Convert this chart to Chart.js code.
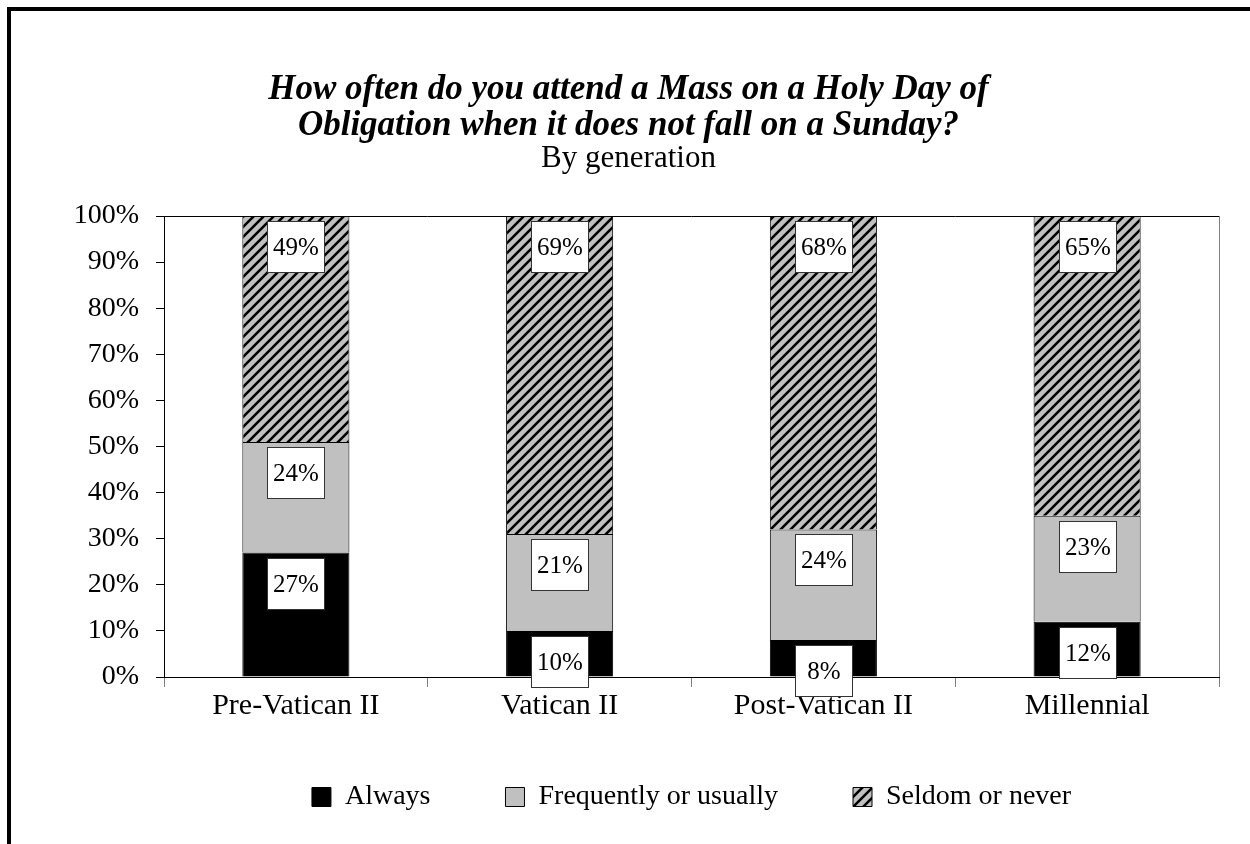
<!DOCTYPE html>
<html>
<head>
<meta charset="utf-8">
<script src="https://cdn.jsdelivr.net/npm/chart.js@4.4.1/dist/chart.umd.min.js"></script>
<style>
  html, body { margin: 0; padding: 0; background: #fff; }
  #wrap { position: absolute; left: 0; top: 0; width: 1250px; height: 844px; }
</style>
</head>
<body>
<div id="wrap"><canvas id="chart" width="1250" height="844"></canvas></div>
<script>
// ---------- data ----------
const generations = ['Pre-Vatican II', 'Vatican II', 'Post-Vatican II', 'Millennial'];
const always = [27, 10, 8, 12];
const frequently = [24, 21, 24, 23];
const seldom = [49, 69, 68, 65];
const yTicks = [0, 10, 20, 30, 40, 50, 60, 70, 80, 90, 100];

const SERIF = "'Liberation Serif', 'Times New Roman', serif";

// ---------- hatch pattern for "Seldom or never" ----------
function makeHatch() {
  const s = 10;
  const c = document.createElement('canvas');
  c.width = s; c.height = s;
  const g = c.getContext('2d');
  g.fillStyle = '#c0c0c0';
  g.fillRect(0, 0, s, s);
  g.strokeStyle = '#000';
  g.lineWidth = 2.6;
  g.beginPath();
  g.moveTo(-2, s + 2); g.lineTo(s + 2, -2);
  g.moveTo(-2, 2); g.lineTo(2, -2);
  g.moveTo(s - 2, s + 2); g.lineTo(s + 2, s - 2);
  g.stroke();
  return g.createPattern(c, 'repeat');
}
const hatch = makeHatch();

// ---------- plugins ----------
const framePlugin = {
  id: 'frame',
  afterLayout(chart) {
    // let the x labels draw below the (squeezed) x scale box
    chart.scales.x.bottom = chart.height;
  },
  beforeDraw(chart) {
    const ctx = chart.ctx;
    ctx.save();
    ctx.fillStyle = '#000';
    ctx.fillRect(7, 7, chart.width - 7, 4);
    ctx.fillRect(7, 7, 4, chart.height - 7);
    ctx.restore();
  },
  afterDatasetsDraw(chart) {
    // top line and right edge of the plot area
    const a = chart.chartArea;
    const ctx = chart.ctx;
    ctx.save();
    ctx.lineWidth = 1;
    ctx.strokeStyle = '#000';
    ctx.beginPath();
    ctx.moveTo(a.left, a.top + 0.5);
    ctx.lineTo(a.right, a.top + 0.5);
    ctx.stroke();
    ctx.strokeStyle = '#808080';
    ctx.beginPath();
    ctx.moveTo(a.right + 0.5, a.top);
    ctx.lineTo(a.right + 0.5, a.bottom);
    ctx.stroke();
    ctx.restore();
  }
};

const labelBoxes = {
  id: 'labelBoxes',
  afterDatasetsDraw(chart) {
    const ctx = chart.ctx;
    ctx.save();
    ctx.font = '25px ' + SERIF;
    ctx.textAlign = 'center';
    ctx.textBaseline = 'middle';
    chart.data.datasets.forEach((ds, di) => {
      const meta = chart.getDatasetMeta(di);
      meta.data.forEach((bar, i) => {
        const top = Math.min(bar.y, bar.base);
        const w = 57, h = 51;
        const x0 = Math.round(bar.x - w / 2) + 0.5;
        const y0 = Math.round(top + 5) + 0.5;
        ctx.fillStyle = '#fff';
        ctx.fillRect(x0, y0, w, h);
        ctx.strokeStyle = '#333';
        ctx.lineWidth = 1;
        ctx.strokeRect(x0, y0, w, h);
        ctx.fillStyle = '#000';
        ctx.fillText(ds.data[i] + '%', x0 + w / 2, y0 + h / 2 + 1);
      });
    });
    ctx.restore();
  }
};

// ---------- chart ----------
const ctx = document.getElementById('chart').getContext('2d');
new Chart(ctx, {
  type: 'bar',
  data: {
    labels: generations,
    datasets: [
      { label: 'Always', data: always, backgroundColor: '#000', borderColor: '#000', borderWidth: 1 },
      { label: 'Frequently or usually', data: frequently, backgroundColor: '#c0c0c0', borderColor: '#000', borderWidth: 1 },
      { label: 'Seldom or never', data: seldom, backgroundColor: hatch, borderColor: '#000', borderWidth: 1 }
    ]
  },
  options: {
    responsive: false,
    animation: false,
    layout: { padding: { left: 38, right: 31, top: 0, bottom: 23 } },
    datasets: { bar: { categoryPercentage: 1, barPercentage: 0.406 } },
    plugins: {
      title: {
        display: true,
        text: ['How often do you attend a Mass on a Holy Day of', 'Obligation when it does not fall on a Sunday?'],
        color: '#000',
        font: { family: SERIF, size: 35, weight: 'bold', style: 'italic', lineHeight: '36px' },
        padding: { top: 72, bottom: 0 }
      },
      subtitle: {
        display: true,
        text: 'By generation',
        color: '#000',
        font: { family: SERIF, size: 31, lineHeight: '30px' },
        padding: { top: 0, bottom: 42 }
      },
      legend: {
        position: 'bottom',
        fullSize: false,
        labels: {
          color: '#000',
          font: { family: SERIF, size: 28 },
          boxWidth: 19,
          boxHeight: 19,
          padding: 75
        }
      },
      tooltip: { enabled: false }
    },
    scales: {
      x: {
        stacked: true,
        afterFit(scale) { scale.height = 31; },
        grid: { offset: true, drawOnChartArea: false, tickLength: 10, tickColor: '#808080' },
        border: { display: true, color: '#000', width: 1 },
        ticks: { color: '#000', padding: 1, font: { family: SERIF, size: 30 } }
      },
      y: {
        stacked: true,
        min: 0,
        max: 100,
        afterFit(scale) { scale.width = 126; },
        afterBuildTicks(scale) { scale.ticks = yTicks.map(v => ({ value: v })); },
        grid: { drawOnChartArea: false, tickLength: 8, tickColor: '#000' },
        border: { display: true, color: '#000', width: 1 },
        ticks: {
          color: '#000',
          padding: 17,
          font: { family: SERIF, size: 28 },
          callback: v => v + '%'
        }
      }
    }
  },
  plugins: [framePlugin, labelBoxes]
});
</script>
</body>
</html>
